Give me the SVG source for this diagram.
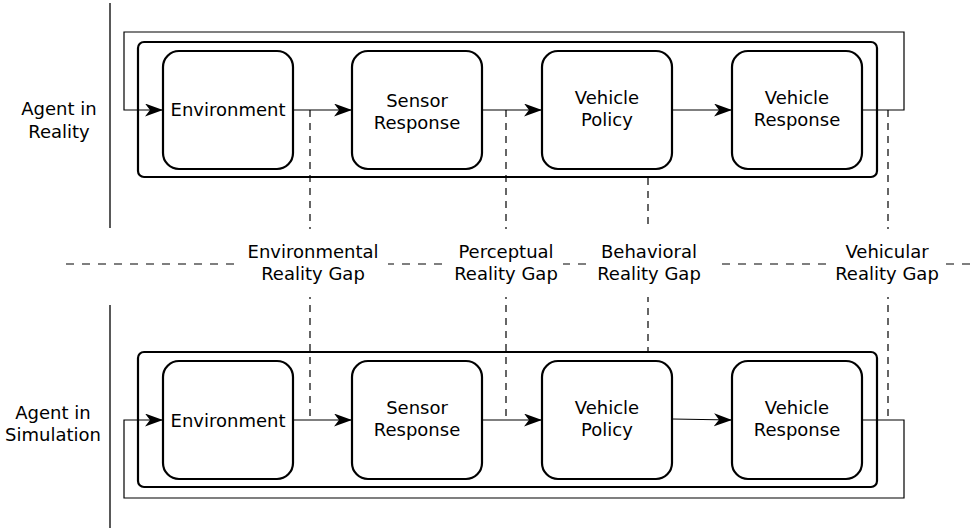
<svg xmlns="http://www.w3.org/2000/svg" width="970" height="529" viewBox="0 0 970 529">
<defs>
<marker id="arr" markerUnits="userSpaceOnUse" markerWidth="20" markerHeight="14" refX="18" refY="6.5" orient="auto">
<path d="M0,0 L18,6.5 L0,13 L5,6.5 Z" fill="#000"/>
</marker>
<style>
text{font-family:"DejaVu Sans","Liberation Sans",sans-serif;font-size:18px;fill:#000;text-anchor:middle}
.box{fill:#fff;stroke:#000;stroke-width:2.2}
.cont{fill:none;stroke:#000;stroke-width:2.2}
.line{fill:none;stroke:#000;stroke-width:1.2}
.loop{fill:none;stroke:#000;stroke-width:1.2}
.dash{fill:none;stroke:#000;stroke-width:1.2;stroke-dasharray:7 6}
.hdash{fill:none;stroke:#000;stroke-width:1.2;stroke-dasharray:8 8}
.sep{fill:none;stroke:#222;stroke-width:1.5}
.bg{fill:#fff;stroke:none}
</style>
</defs>
<rect width="970" height="529" fill="#fff"/>

<g id="separators">
<line class="sep" x1="110" y1="3" x2="110" y2="228"/>
<line class="sep" x1="110" y1="305" x2="110" y2="528"/>
</g>

<g id="side-labels">
<text x="59" y="115">Agent in</text>
<text x="59" y="138">Reality</text>
<text x="53" y="419">Agent in</text>
<text x="53" y="441">Simulation</text>
</g>

<g id="gap-lines">
<line class="hdash" x1="66" y1="264" x2="970" y2="264"/>
<line class="dash" x1="310" y1="110" x2="310" y2="419"/>
<line class="dash" x1="506" y1="110" x2="506" y2="419"/>
<line class="dash" x1="648" y1="178" x2="648" y2="352"/>
<line class="dash" x1="888" y1="110" x2="888" y2="420"/>
</g>

<g id="container-reality"><rect class="cont" x="138" y="42" width="739" height="135" rx="6"/></g>
<g id="container-sim"><rect class="cont" x="138" y="352" width="739" height="135" rx="6"/></g>

<g id="connectors">
<polyline class="loop" points="862,110 904,110 904,32 124,32 124,110 163,110" marker-end="url(#arr)"/>
<line class="line" x1="293" y1="110" x2="352" y2="110" marker-end="url(#arr)"/>
<line class="line" x1="482" y1="110" x2="542" y2="110" marker-end="url(#arr)"/>
<line class="line" x1="672" y1="110" x2="732" y2="110" marker-end="url(#arr)"/>
<polyline class="loop" points="862,420 904,420 904,498 124,498 124,420 163,420" marker-end="url(#arr)"/>
<line class="line" x1="293" y1="420" x2="352" y2="420" marker-end="url(#arr)"/>
<line class="line" x1="482" y1="420" x2="542" y2="420" marker-end="url(#arr)"/>
<line class="line" x1="672" y1="419" x2="732" y2="420" marker-end="url(#arr)"/>
</g>

<g id="env-real"><rect class="box" x="163" y="51" width="130" height="118" rx="16"/><text x="228" y="116">Environment</text></g>
<g id="sensor-real"><rect class="box" x="352" y="51" width="130" height="118" rx="16"/><text x="417" y="107">Sensor</text><text x="417" y="129">Response</text></g>
<g id="policy-real"><rect class="box" x="542" y="51" width="130" height="118" rx="16"/><text x="607" y="104">Vehicle</text><text x="607" y="126">Policy</text></g>
<g id="vresp-real"><rect class="box" x="732" y="51" width="130" height="118" rx="16"/><text x="797" y="104">Vehicle</text><text x="797" y="126">Response</text></g>

<g id="env-sim"><rect class="box" x="163" y="361" width="130" height="118" rx="16"/><text x="228" y="427">Environment</text></g>
<g id="sensor-sim"><rect class="box" x="352" y="361" width="130" height="118" rx="16"/><text x="417" y="414">Sensor</text><text x="417" y="436">Response</text></g>
<g id="policy-sim"><rect class="box" x="542" y="361" width="130" height="118" rx="16"/><text x="607" y="414">Vehicle</text><text x="607" y="436">Policy</text></g>
<g id="vresp-sim"><rect class="box" x="732" y="361" width="130" height="118" rx="16"/><text x="797" y="414">Vehicle</text><text x="797" y="436">Response</text></g>

<g id="gap-environmental"><rect class="bg" x="234" y="229" width="154" height="68"/><text x="313" y="258">Environmental</text><text x="313" y="280">Reality Gap</text></g>
<g id="gap-perceptual"><rect class="bg" x="446" y="229" width="117" height="68"/><text x="506" y="258">Perceptual</text><text x="506" y="280">Reality Gap</text></g>
<g id="gap-behavioral"><rect class="bg" x="592" y="229" width="124" height="68"/><text x="649" y="258">Behavioral</text><text x="649" y="280">Reality Gap</text></g>
<g id="gap-vehicular"><rect class="bg" x="826" y="229" width="120" height="68"/><text x="887" y="258">Vehicular</text><text x="887" y="280">Reality Gap</text></g>
</svg>
